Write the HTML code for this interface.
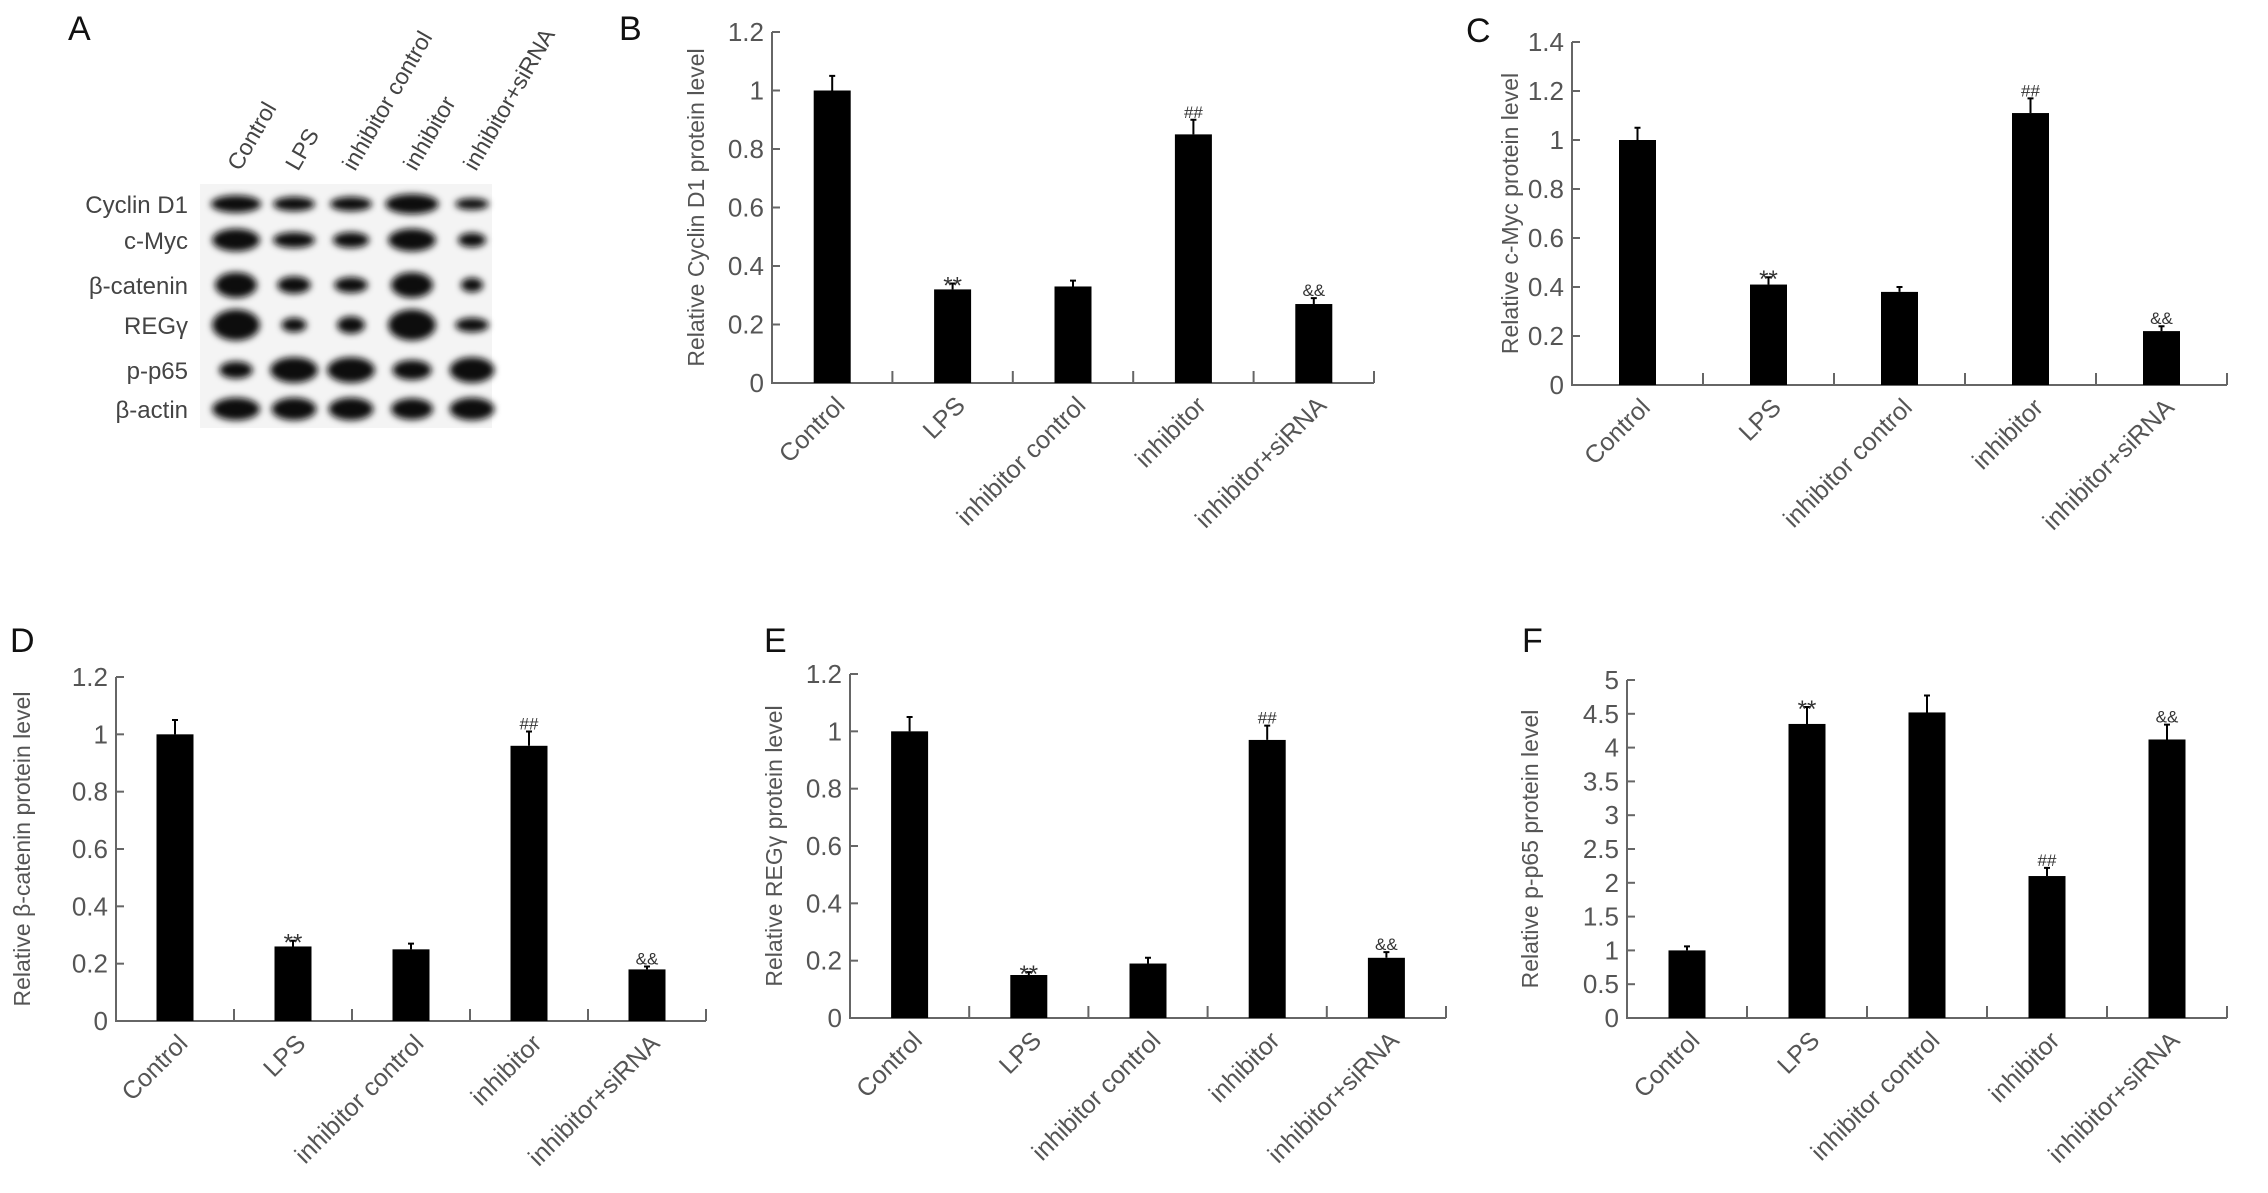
<!DOCTYPE html>
<html><head><meta charset="utf-8">
<style>
html,body{margin:0;padding:0;background:#fff;}
svg{display:block;font-family:"Liberation Sans",Arial,sans-serif;}
</style></head>
<body>
<svg id="fig" width="2268" height="1193" viewBox="0 0 2268 1193" xmlns="http://www.w3.org/2000/svg">
<defs><filter id="blur" x="-30%" y="-60%" width="160%" height="220%"><feGaussianBlur stdDeviation="3.5"/></filter></defs>
<g id="panelA"></g>
<g id="charts"></g>
</svg>
<script>
const NS = "http://www.w3.org/2000/svg";
const svg = document.getElementById('fig');
const categories = ["Control","LPS","inhibitor control","inhibitor","inhibitor+siRNA"];

// Panel B: Cyclin D1
const valsB = [1.0, 0.32, 0.33, 0.85, 0.27];
const errB = [0.05, 0.02, 0.02, 0.05, 0.02];
const ticksB = ["0","0.2","0.4","0.6","0.8","1","1.2"];
// Panel C: c-Myc
const valsC = [1.0, 0.41, 0.38, 1.11, 0.22];
const errC = [0.05, 0.03, 0.02, 0.06, 0.02];
const ticksC = ["0","0.2","0.4","0.6","0.8","1","1.2","1.4"];
// Panel D: beta-catenin
const valsD = [1.0, 0.26, 0.25, 0.96, 0.18];
const errD = [0.05, 0.02, 0.02, 0.05, 0.01];
const ticksD = ["0","0.2","0.4","0.6","0.8","1","1.2"];
// Panel E: REGgamma
const valsE = [1.0, 0.15, 0.19, 0.97, 0.21];
const errE = [0.05, 0.01, 0.02, 0.05, 0.02];
const ticksE = ["0","0.2","0.4","0.6","0.8","1","1.2"];
// Panel F: p-p65
const valsF = [1.0, 4.35, 4.52, 2.1, 4.12];
const errF = [0.06, 0.25, 0.25, 0.12, 0.22];
const ticksF = ["0","0.5","1","1.5","2","2.5","3","3.5","4","4.5","5"];
const marks = ["", "**", "", "##", "&&"];

// Blot data: relative band widths & darkness per row
const blotRows = ["Cyclin D1","c-Myc","β-catenin","REGγ","p-p65","β-actin"];
const bandW = [[0.9,0.75,0.75,0.95,0.6],[0.85,0.75,0.65,0.85,0.5],[0.75,0.6,0.6,0.75,0.4],[0.85,0.45,0.5,0.85,0.6],[0.6,0.85,0.85,0.7,0.8],[0.85,0.8,0.8,0.75,0.8]];
const bandH = [[0.4,0.3,0.3,0.5,0.2],[0.6,0.35,0.35,0.6,0.3],[0.7,0.4,0.35,0.7,0.3],[0.9,0.3,0.4,0.9,0.3],[0.4,0.7,0.7,0.5,0.7],[0.6,0.6,0.6,0.55,0.6]];

function mk(tag, attrs, parent, text){
  const e = document.createElementNS(NS, tag);
  for (const k in attrs) e.setAttribute(k, attrs[k]);
  if (text !== undefined) e.textContent = text;
  (parent||svg).appendChild(e);
  return e;
}

function chart(cfg){
  const g = mk('g', {});
  
  
  const {x0, x1, y0, y1, max} = cfg;
  const n = categories.length;
  const cw = (x1 - x0) / n;
  const ys = v => y0 - (v / max) * (y0 - y1);
  const xs = i => x0 + cw * (i + 0.5);
  const lt = mk('text', {x: cfg.lx, y: cfg.ly, 'font-size': 34, fill: '#111'}, g, cfg.letter);
  
  
  const ax = mk('path', {d:`M${x0} ${y1}V${y0}H${x1}`, stroke:'#666', 'stroke-width':2, fill:'none'}, g);
  
  
  cfg.ticks.forEach(t => {
    const y = ys(parseFloat(t));
    mk('line', {x1:x0, x2:x0+8, y1:y, y2:y, stroke:'#666', 'stroke-width':2}, g);
    const tl = mk('text', {x:x0-8, y:y+9, 'font-size':26, fill:'#555', 'text-anchor':'end'}, g, t);
    
    
  });
  for (let i = 1; i <= n; i++) {
    const x = x0 + cw * i;
    mk('line', {x1:x, x2:x, y1:y0, y2:y0-12, stroke:'#666', 'stroke-width':2}, g);
  }
  const yt = mk('text', {x:0, y:0, 'font-size':23, fill:'#555', 'text-anchor':'middle',
    transform:`translate(${cfg.tx},${(y0+y1)/2}) rotate(-90)`}, g, cfg.title);
  
  
  const bw = 37;
  cfg.vals.forEach((v, i) => {
    const cx = xs(i);
    const top = ys(v);
    const b = mk('rect', {x:cx-bw/2, y:top, width:bw, height:y0-top, fill:'#000'}, g);
    
    
    const et = ys(v + cfg.err[i]);
    const eb = mk('path', {d:`M${cx} ${top}V${et}M${cx-3} ${et}H${cx+3}`, stroke:'#000', 'stroke-width':2, fill:'none'}, g);
    
    
    if (marks[i]) {
      const m = mk('text', {x:cx, y:et+(marks[i]==='**'?10:-2), 'font-size':marks[i]==='**'?24:17, fill:'#333', 'text-anchor':'middle'}, g, marks[i]);
      
      
    }
    const cl = mk('text', {x:0, y:0, 'font-size':25, fill:'#555', 'text-anchor':'end',
      transform:`translate(${cx+14},${y0+24}) rotate(-45)`}, g, categories[i]);
    
    
  });
}

chart({name:'chart-cyclin-d1', letter:'B', lx:619, ly:40, x0:772, x1:1374, y0:383, y1:32, max:1.2, ticks:ticksB, vals:valsB, err:errB, tx:704, title:'Relative Cyclin D1 protein level'});
chart({name:'chart-c-myc', letter:'C', lx:1466, ly:42, x0:1572, x1:2227, y0:385, y1:42, max:1.4, ticks:ticksC, vals:valsC, err:errC, tx:1518, title:'Relative c-Myc protein level'});
chart({name:'chart-beta-catenin', letter:'D', lx:10, ly:652, x0:116, x1:706, y0:1021, y1:677, max:1.2, ticks:ticksD, vals:valsD, err:errD, tx:30, title:'Relative β-catenin protein level'});
chart({name:'chart-reg-gamma', letter:'E', lx:764, ly:652, x0:850, x1:1446, y0:1018, y1:674, max:1.2, ticks:ticksE, vals:valsE, err:errE, tx:782, title:'Relative REGγ protein level'});
chart({name:'chart-p-p65', letter:'F', lx:1522, ly:652, x0:1627, x1:2227, y0:1018, y1:680, max:5, ticks:ticksF, vals:valsF, err:errF, tx:1538, title:'Relative p-p65 protein level'});

// Panel A western blot
const pa = document.getElementById('panelA');
const la = mk('text', {x:68, y:40, 'font-size':34, fill:'#111'}, pa, 'A');


const laneX = [236, 294, 351, 412, 472];
const rowY = [204, 240, 285, 325, 370, 409];
const bg = mk('rect', {x:200, y:184, width:292, height:244, fill:'#f4f4f4'}, pa);


categories.forEach((c, i) => {
  const t = mk('text', {x:0, y:0, 'font-size':23, fill:'#444', transform:`translate(${laneX[i]+4},${172}) rotate(-60)`}, pa, c);
  
  
});
blotRows.forEach((r, ri) => {
  const t = mk('text', {x:188, y:rowY[ri]+9, 'font-size':24, fill:'#444', 'text-anchor':'end'}, pa, r);
  
  
  laneX.forEach((x, li) => {
    const e = mk('ellipse', {cx:x, cy:rowY[ri], rx:28*bandW[ri][li], ry:14*bandH[ri][li]+3, fill:'#111', filter:'url(#blur)'}, pa);
    
    
  });
});
</script>
</body></html>
